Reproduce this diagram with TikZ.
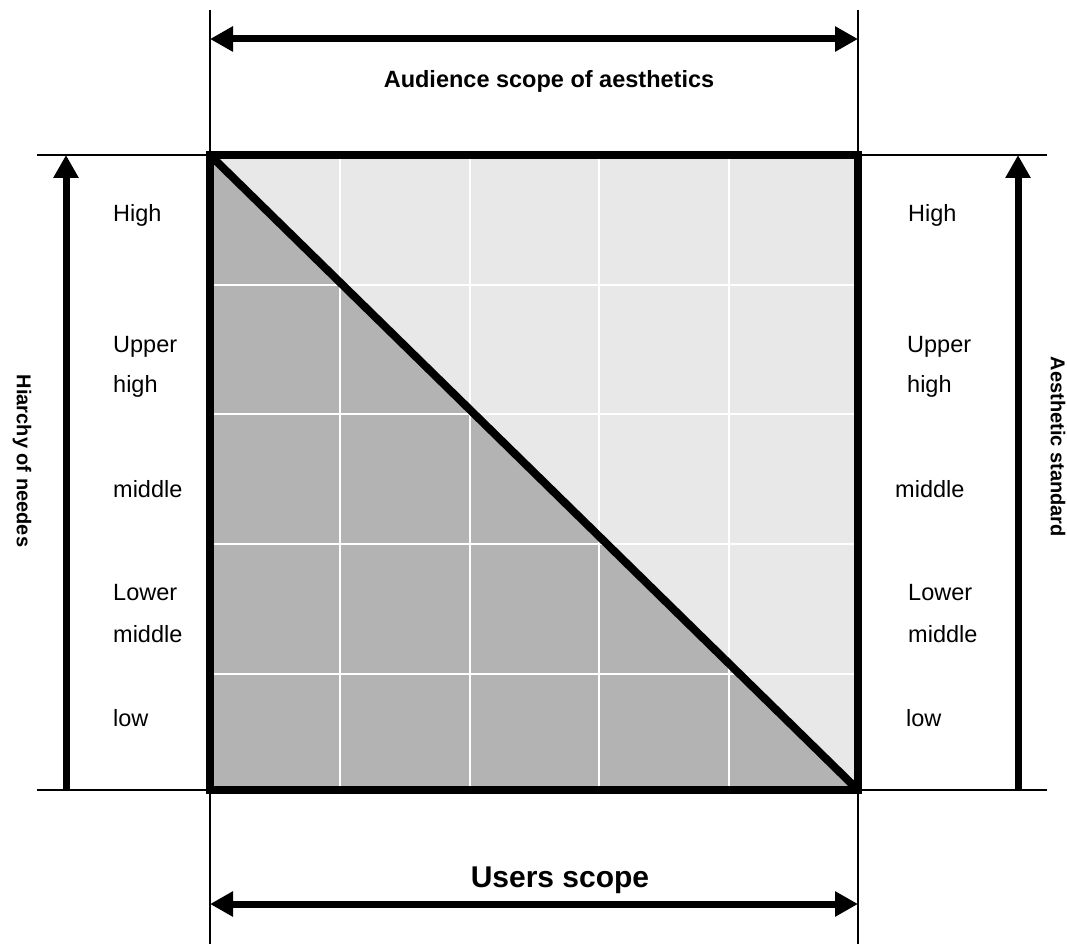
\documentclass[tikz,border=0pt]{standalone}
\usepackage{fontspec}
\setmainfont{Liberation Sans}
\usetikzlibrary{arrows.meta}
\definecolor{darkfill}{HTML}{B3B3B3}
\definecolor{lightfill}{HTML}{E8E8E8}
\begin{document}
\begin{tikzpicture}[x=1pt,y=-1pt,
  thinline/.style={line width=1.8pt},
  thickline/.style={line width=7.5pt},
  gridline/.style={white,line width=1.6pt},
  bigarrow/.style={line width=7pt,-{Triangle[length=23pt,width=24pt]}},
  dblarrow/.style={line width=7pt,{Triangle[length=23pt,width=24pt]}-{Triangle[length=23pt,width=24pt]}},
  lvl/.style={anchor=base west,inner sep=0pt,font=\fontsize{23.5}{28}\selectfont},
  axis/.style={inner sep=0pt,font=\fontsize{20}{24}\selectfont\bfseries,rotate=-90}]
\useasboundingbox (0,0) rectangle (1067,944);
% corners
\coordinate (tl) at (210,155);
\coordinate (tr) at (858,155);
\coordinate (bl) at (210,790);
\coordinate (br) at (858,790);
% fills
\fill[darkfill] (tl) -- (bl) -- (br) -- cycle;
\fill[lightfill] (tl) -- (tr) -- (br) -- cycle;
% grid
\foreach \x in {340,470,599,729} \draw[gridline] (\x,155) -- (\x,790);
\foreach \y in {285,414,544,674} \draw[gridline] (210,\y) -- (858,\y);
% thin extension lines
\coordinate (vlt) at (210,10);
\coordinate (vlb) at (210,944);
\coordinate (vrt) at (858,10);
\coordinate (vrb) at (858,944);
\coordinate (hlt) at (37,155);
\coordinate (hrt) at (1047,155);
\coordinate (hlb) at (37,790);
\coordinate (hrb) at (1047,790);
\draw[thinline] (vlt) -- (vlb);
\draw[thinline] (vrt) -- (vrb);
\draw[thinline] (hlt) -- (hrt);
\draw[thinline] (hlb) -- (hrb);
% square and diagonal
\draw[thickline,line join=miter] (tl) -- (tr) -- (br) -- (bl) -- cycle;
\draw[line width=8pt] (tl) -- (br);
% arrows
\coordinate (ta1) at (210,39);
\coordinate (ta2) at (858,39);
\coordinate (ba1) at (210,904);
\coordinate (ba2) at (858,904);
\coordinate (la1) at (66,790);
\coordinate (la2) at (66,155);
\coordinate (ra1) at (1018,790);
\coordinate (ra2) at (1018,155);
\draw[dblarrow] (ta1) -- (ta2);
\draw[dblarrow] (ba1) -- (ba2);
\draw[bigarrow] (la1) -- (la2);
\draw[bigarrow] (ra1) -- (ra2);
% titles
\node[anchor=base,inner sep=0pt,font=\fontsize{23.5}{28}\selectfont\bfseries] (aud) at (549,88) {Audience scope of aesthetics};
\node[anchor=base,inner sep=0pt,font=\fontsize{30}{36}\selectfont\bfseries] (users) at (560,887) {Users scope};
\node[axis] (hier) at (22,461) {Hiarchy of needes};
\node[axis] (aest) at (1058,447) {Aesthetic standard};
% left levels
\node[lvl] (lh) at (113,221) {High};
\node[lvl] (lu) at (113,352) {Upper};
\node[lvl] (luh) at (113,392) {high};
\node[lvl] (lm) at (113,497) {middle};
\node[lvl] (ll) at (113,600) {Lower};
\node[lvl] (llm) at (113,642) {middle};
\node[lvl] (llo) at (113,726) {low};
% right levels
\node[lvl] (rh) at (908,221) {High};
\node[lvl] (ru) at (907,352) {Upper};
\node[lvl] (ruh) at (907,392) {high};
\node[lvl] (rm) at (895,497) {middle};
\node[lvl] (rl) at (908,600) {Lower};
\node[lvl] (rlm) at (908,642) {middle};
\node[lvl] (rlo) at (906,726) {low};
\end{tikzpicture}
\end{document}
